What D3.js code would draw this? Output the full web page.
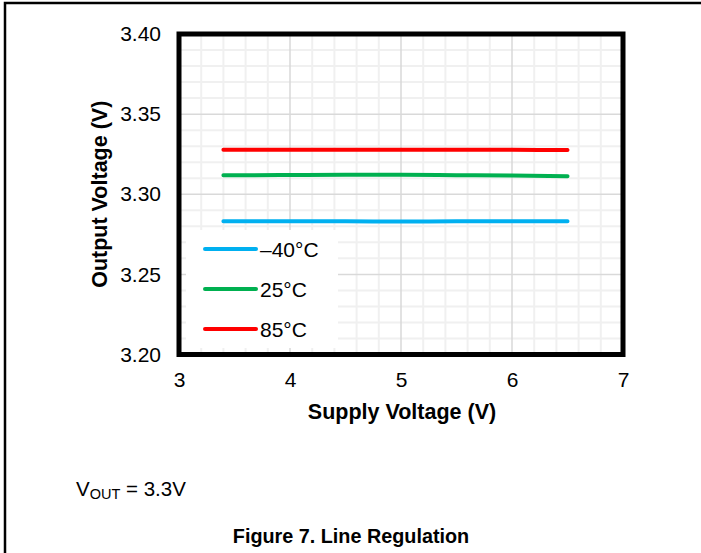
<!DOCTYPE html>
<html>
<head>
<meta charset="utf-8">
<script src="https://cdn.jsdelivr.net/npm/d3@7"></script>
<style>
  body { margin: 0; background: #fff; }
  svg { display: block; font-family: Arial, "Liberation Sans", sans-serif; }
</style>
</head>
<body>
<div id="chart"></div>
<script>
// Line regulation data
const supplyVoltage = [3.4, 3.6, 4.0, 4.5, 5.0, 5.5, 6.0, 6.5];
const voutM40 = [3.2831, 3.2831, 3.2831, 3.2831, 3.2830, 3.2831, 3.2831, 3.2831];
const vout25 = [3.3118, 3.3119, 3.3120, 3.3121, 3.3121, 3.3119, 3.3117, 3.3113];
const vout85 = [3.3277, 3.3277, 3.3278, 3.3278, 3.3278, 3.3278, 3.3277, 3.3276];
const seriesNames = ["\u201340\u00B0C", "25\u00B0C", "85\u00B0C"];
const seriesColors = ["#00B0F0", "#00B050", "#FF0000"];
const xTicks = [3, 4, 5, 6, 7];
const yTicks = [3.20, 3.25, 3.30, 3.35, 3.40];

const width = 701, height = 553;

const svg = d3.select("#chart").append("svg")
    .attr("width", width)
    .attr("height", height);

// outer figure frame (runs off the right / bottom edge)
svg.append("rect")
    .attr("x", 5).attr("y", 3)
    .attr("width", 760).attr("height", 620)
    .attr("fill", "none")
    .attr("stroke", "#000")
    .attr("stroke-width", 2.5);

const x = d3.scaleLinear().domain([3, 7]).range([179, 623]);
const y = d3.scaleLinear().domain([3.20, 3.40]).range([354.5, 34]);

// minor grid
const grid = svg.append("g");
grid.selectAll("line.vx")
    .data(d3.range(3.2, 7, 0.2).filter(v => Math.abs(v - Math.round(v)) > 1e-6))
    .join("line")
    .attr("x1", d => x(d)).attr("x2", d => x(d))
    .attr("y1", y(3.40)).attr("y2", y(3.20))
    .attr("stroke", "#F0F0F0").attr("stroke-width", 2);
grid.selectAll("line.hy")
    .data(d3.range(1, 20).map(i => 3.20 + i * 0.01).filter((v, i) => (i + 1) % 5 !== 0))
    .join("line")
    .attr("x1", x(3)).attr("x2", x(7))
    .attr("y1", d => y(d)).attr("y2", d => y(d))
    .attr("stroke", "#F0F0F0").attr("stroke-width", 2);

// major grid
grid.selectAll("line.mx")
    .data([4, 5, 6])
    .join("line")
    .attr("x1", d => x(d)).attr("x2", d => x(d))
    .attr("y1", y(3.40)).attr("y2", y(3.20))
    .attr("stroke", "#D9D9D9").attr("stroke-width", 1.5);
grid.selectAll("line.my")
    .data([3.25, 3.30, 3.35])
    .join("line")
    .attr("x1", x(3)).attr("x2", x(7))
    .attr("y1", d => y(d)).attr("y2", d => y(d))
    .attr("stroke", "#D9D9D9").attr("stroke-width", 1.5);

// legend background covers the grid
svg.append("rect")
    .attr("x", 186).attr("y", 230)
    .attr("width", 152).attr("height", 118)
    .attr("fill", "#fff");

// series
const series = [voutM40, vout25, vout85];
const line = d3.line()
    .x((d, i) => x(supplyVoltage[i]))
    .y(d => y(d))
    .curve(d3.curveMonotoneX);

svg.append("g")
    .selectAll("path")
    .data(series)
    .join("path")
    .attr("d", line)
    .attr("fill", "none")
    .attr("stroke", (d, i) => seriesColors[i])
    .attr("stroke-width", 4)
    .attr("stroke-linecap", "round");

// plot frame
svg.append("rect")
    .attr("x", x(3)).attr("y", y(3.40))
    .attr("width", x(7) - x(3)).attr("height", y(3.20) - y(3.40))
    .attr("fill", "none")
    .attr("stroke", "#000")
    .attr("stroke-width", 5);

// axes (labels only, frame drawn above)
const xAxis = svg.append("g")
    .attr("transform", `translate(0,${y(3.20)})`)
    .call(d3.axisBottom(x).tickValues(xTicks).tickSize(0).tickPadding(18).tickFormat(d3.format("d")));
xAxis.select(".domain").remove();
xAxis.selectAll("text").attr("font-size", 21).attr("fill", "#000")
    .attr("font-family", "Arial, 'Liberation Sans', sans-serif");

const yAxis = svg.append("g")
    .attr("transform", `translate(${x(3)},0)`)
    .call(d3.axisLeft(y).tickValues(yTicks).tickSize(0).tickPadding(18).tickFormat(d3.format(".2f")));
yAxis.select(".domain").remove();
yAxis.selectAll("text").attr("font-size", 21).attr("fill", "#000")
    .attr("font-family", "Arial, 'Liberation Sans', sans-serif");

// axis titles
svg.append("text")
    .attr("x", 402).attr("y", 419)
    .attr("text-anchor", "middle")
    .attr("font-size", 21.5).attr("font-weight", "bold")
    .text("Supply Voltage (V)");

svg.append("text")
    .attr("transform", `translate(107,${(y(3.2) + y(3.4)) / 2}) rotate(-90)`)
    .attr("text-anchor", "middle")
    .attr("font-size", 21.5).attr("font-weight", "bold")
    .text("Output Voltage (V)");

// legend
const legend = svg.append("g");
seriesNames.forEach((name, i) => {
    const ly = 249 + i * 40;
    legend.append("line")
        .attr("x1", 205).attr("x2", 256)
        .attr("y1", ly).attr("y2", ly)
        .attr("stroke", seriesColors[i])
        .attr("stroke-width", 4)
        .attr("stroke-linecap", "round");
    legend.append("text")
        .attr("x", 260).attr("y", ly + 7.5)
        .attr("font-size", 21)
        .text(name);
});

// notes
const note = svg.append("text")
    .attr("x", 76).attr("y", 496)
    .attr("font-size", 20.5);
note.append("tspan").text("V");
note.append("tspan").attr("font-size", 14.5).attr("dy", 3).text("OUT");
note.append("tspan").attr("dy", -3).text(" = 3.3V");

svg.append("text")
    .attr("x", 351).attr("y", 543)
    .attr("text-anchor", "middle")
    .attr("font-size", 19.8).attr("font-weight", "bold")
    .text("Figure 7. Line Regulation");
</script>
</body>
</html>
